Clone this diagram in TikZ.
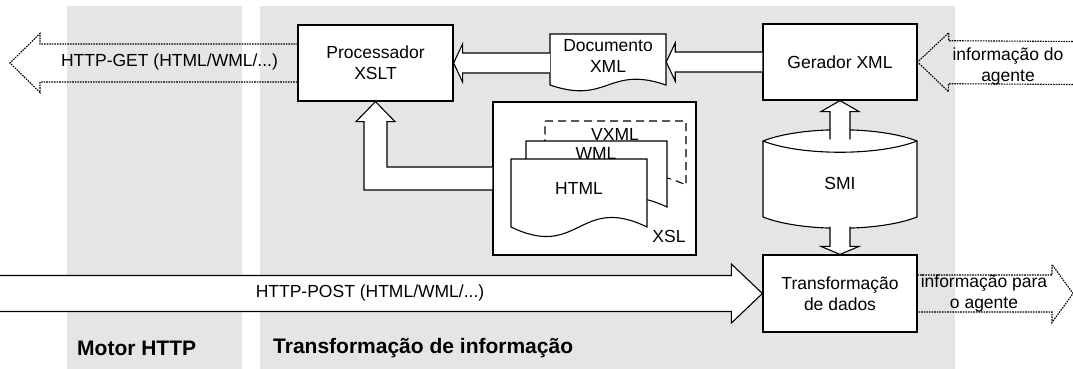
\documentclass[tikz,border=0pt]{standalone}
\usepackage{fontspec}
\setmainfont{Liberation Sans}
\usetikzlibrary{calc}
\definecolor{panelgray}{RGB}{229,229,229}

% block arrow: [style]{tail}{tip}{half shaft}{half head}{head length}
\newcommand{\blockarrow}[6][]{%
  \coordinate (hb) at ($(#3)!#6!(#2)$);
  \path[#1] ($(#2)!#4!90:(#3)$) -- ($(hb)!#4!90:(#3)$) -- ($(hb)!#5!90:(#3)$) -- (#3)
    -- ($(hb)!#5!-90:(#3)$) -- ($(hb)!#4!-90:(#3)$) -- ($(#2)!#4!-90:(#3)$);
}
% document shape: [style]{left}{top}{width}{height}{wave}
\newcommand{\docshape}[6][]{%
  \path[#1] (#2,#3) -- (#2+#4,#3) -- (#2+#4,#3+#5)
    .. controls (#2+#4/2,#3+#5-#6) and (#2+#4/2,#3+#5+#6) .. (#2,#3+#5) -- cycle;
}

\begin{document}
\begin{tikzpicture}[x=1pt,y=-1pt,
  every node/.style={font=\fontsize{17.5}{21}\selectfont,align=center},
  box/.style={draw,fill=white,line width=1.2pt,minimum width=154pt,minimum height=76pt,inner sep=0pt},
  blk/.style={draw,fill=white,line width=1.1pt},
  dots/.style={draw,line width=1.1pt,dash pattern=on 1.6pt off 1pt},
  sheet/.style={draw,fill=white,line width=1.1pt},
  title/.style={font=\fontsize{21}{25}\selectfont\bfseries,anchor=west,inner sep=0pt}]
\useasboundingbox (0,0) rectangle (1073,369);

% panels
\fill[panelgray] (67,6) rectangle (242,369);
\fill[panelgray] (260,6) rectangle (955,369);

\node[box,minimum width=155pt] (p) at (375.5,63) {Processador\\XSLT};
\node[box] (g) at (840,62) {Gerador XML};
\node[box,minimum height=77pt] (t) at (840,293.5) {Transformação\\de dados};
\node[box,minimum width=203pt,minimum height=153pt] (x) at (594.5,178.5) {};

% Documento XML
\docshape[sheet]{550}{34}{116}{51}{20}
\node[minimum width=116pt,inner sep=0pt] (d) at (608,55.5) {Documento\\XML};

% XSL sheets
\docshape[sheet,dash pattern=on 8pt off 5pt]{545}{121}{141}{64}{33}
\node (v) at (615,134) {VXML};
\docshape[sheet]{526}{141}{141}{66}{33}
\node (w) at (596,153) {WML};
\docshape[sheet]{511}{159}{136}{68}{33}
\node (h) at (579,188) {HTML};
\node (xl) at (669,236) {XSL};

% SMI
\node[minimum width=154pt,minimum height=87pt,inner sep=0pt] (s) at (840,183) {};
\path[sheet] (763,141) .. controls (801,126) and (879,126) .. (917,141) -- (917,217)
  .. controls (879,232) and (801,232) .. (763,217) -- cycle;
\draw[line width=1.1pt] (763,141) .. controls (801,156) and (879,156) .. (917,141);
\node at (s) {SMI};

\coordinate (d1) at (d.east |- g.west);
\coordinate (d2) at (d.west |- p.east);
\coordinate (get) at (10,63);
\coordinate (post) at (0,293.5);
\coordinate (ain) at (1073,63);
\coordinate (aout) at (1073,293.5);
\coordinate (c) at (p.south |- x.west);

\blockarrow[blk]{g.west}{d1}{10pt}{19pt}{9pt}
\blockarrow[blk]{d2}{p.east}{10pt}{19pt}{9pt}
\blockarrow[blk]{s.north}{g.south}{10pt}{19pt}{11pt}
\blockarrow[blk]{s.south}{t.north}{10pt}{19pt}{8pt}
\blockarrow[blk]{post}{t.west}{18pt}{29.5pt}{31pt}
\blockarrow[dots]{p.west}{get}{19pt}{29.5pt}{30pt}
\blockarrow[dots]{ain}{g.east}{21.5pt}{29.5pt}{31pt}
\blockarrow[dots]{t.east}{aout}{18.5pt}{29pt}{21pt}
\path[blk] ($(x.west)+(0,-11.5)$) -- ($(c)+(11.5,-11.5)$) -- ($(p.south)+(11.5,20)$)
  -- ($(p.south)+(19.5,20)$) -- (p.south) -- ($(p.south)+(-19.5,20)$)
  -- ($(p.south)+(-11.5,20)$) -- ($(c)+(-11.5,11.5)$) -- ($(x.west)+(0,11.5)$);

\node (lg) at (169.5,62) {HTTP-GET (HTML/WML/...)};
\node (lp) at (370,293) {HTTP-POST (HTML/WML/...)};
\node (la) at (1008,66) {informação do\\agente};
\node (lo) at (984,293) {informação para\\o agente};

\node[title] (m) at (77,348) {Motor HTTP};
\node[title] (ti) at (273,348) {Transformação de informação};
\end{tikzpicture}
\end{document}
